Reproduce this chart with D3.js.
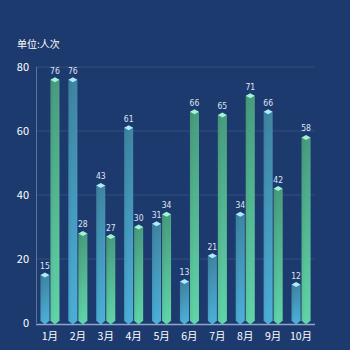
<!DOCTYPE html>
<html><head><meta charset="utf-8">
<script src="https://cdn.jsdelivr.net/npm/d3@7"></script>
<style>html,body{margin:0;padding:0;background:#1d3a6e;}svg{display:block;}</style>
</head><body><svg id="c" width="350" height="350"></svg>
<script>
const categories = ["1月","2月","3月","4月","5月","6月","7月","8月","9月","10月"];
const seriesA = [15,76,43,61,31,13,21,34,66,12];
const seriesB = [76,28,27,30,34,66,65,71,42,58];
const yTicks = [0,20,40,60,80];
const unitLabel = "单位:人次";

const svg = d3.select("#c");
const W=350,H=350;
svg.append("rect").attr("width",W).attr("height",H).attr("fill","#1d3a6e");
const m={l:36,r:35,t:67,b:27};
const x=d3.scaleBand().domain(categories).range([m.l,W-m.r]);
const y=d3.scaleLinear().domain([0,80]).range([H-m.b,m.t]);
const defs=svg.append("defs");
function grad(id,top,bot){
  const g=defs.append("linearGradient").attr("id",id).attr("x1",0).attr("y1",0).attr("x2",0).attr("y2",1);
  g.append("stop").attr("offset","0%").attr("stop-color",top);
  g.append("stop").attr("offset","100%").attr("stop-color",bot);
}
grad("gA","#3e84a2","#4bafd8");
grad("gB","#479c7d","#60d5a8");
const sh=defs.append("linearGradient").attr("id","sh").attr("x1",0).attr("y1",0).attr("x2",1).attr("y2",0);
sh.append("stop").attr("offset","0%").attr("stop-color","#000").attr("stop-opacity",0.06);
sh.append("stop").attr("offset","50%").attr("stop-color","#000").attr("stop-opacity",0);
sh.append("stop").attr("offset","100%").attr("stop-color","#fff").attr("stop-opacity",0.04);

svg.append("g").selectAll("line").data(yTicks.filter(d=>d>0)).join("line")
  .attr("x1",m.l).attr("x2",W-m.r).attr("y1",d=>y(d)).attr("y2",d=>y(d))
  .attr("stroke","#ffffff").attr("stroke-opacity",0.1).attr("stroke-width",1);
svg.append("line").attr("x1",m.l+0.5).attr("x2",m.l+0.5).attr("y1",y(80)).attr("y2",y(0))
  .attr("stroke","#8fa6c8").attr("stroke-opacity",0.55);
svg.append("g").selectAll("text").data(yTicks).join("text")
  .attr("x",m.l-7).attr("y",d=>y(d)).attr("dy","0.35em").attr("text-anchor","end")
  .attr("fill","#ffffff").attr("font-family","Noto Sans CJK SC, sans-serif").attr("font-size",11)
  .text(d=>d);
svg.append("text").attr("x",17).attr("y",48).attr("fill","#ffffff")
  .attr("font-family","Noto Sans CJK SC, sans-serif").attr("font-size",10).text(unitLabel);

const bw=9;
function drawSeries(data,dx,gid,topColor,botColor){
  const g=svg.append("g");
  data.forEach((v,i)=>{
    const cx=x(categories[i])+x.bandwidth()/2+dx;
    const y0=y(0), y1=y(v);
    g.append("rect").attr("x",cx-bw/2).attr("y",y1).attr("width",bw).attr("height",y0-2-y1).attr("fill",`url(#${gid})`);
    g.append("rect").attr("x",cx-bw/2).attr("y",y1).attr("width",bw).attr("height",y0-2-y1).attr("fill","url(#sh)");
    g.append("path").attr("d",`M${cx-bw/2},${y0-2.2} L${cx+bw/2},${y0-2.2} L${cx},${y0+1.5} Z`).attr("fill",botColor);
    g.append("path").attr("d",`M${cx-bw/2},${y1} L${cx},${y1-2.5} L${cx+bw/2},${y1} L${cx},${y1+2.5} Z`).attr("fill",topColor);
    g.append("text").attr("x",cx).attr("y",y1-6).attr("text-anchor","middle")
      .attr("fill","#dfe6f2").attr("font-family","Liberation Sans Narrow, DejaVu Sans Condensed, sans-serif").attr("font-size",8.5).text(v);
  });
}
drawSeries(seriesA,-5,"gA","#aee9ff","#4bafd8");
drawSeries(seriesB,5,"gB","#a2f3d6","#60d5a8");

svg.append("line").attr("x1",m.l).attr("x2",W-m.r).attr("y1",y(0)+1.5).attr("y2",y(0)+1.5)
  .attr("stroke","#8fa6c8").attr("stroke-width",1.5);
svg.append("g").selectAll("text").data(categories).join("text")
  .attr("x",d=>x(d)+x.bandwidth()/2).attr("y",H-14).attr("dy","0.35em").attr("text-anchor","middle")
  .attr("fill","#ffffff").attr("font-family","Noto Sans CJK SC, sans-serif").attr("font-size",10.5).text(d=>d);
</script></body></html>
